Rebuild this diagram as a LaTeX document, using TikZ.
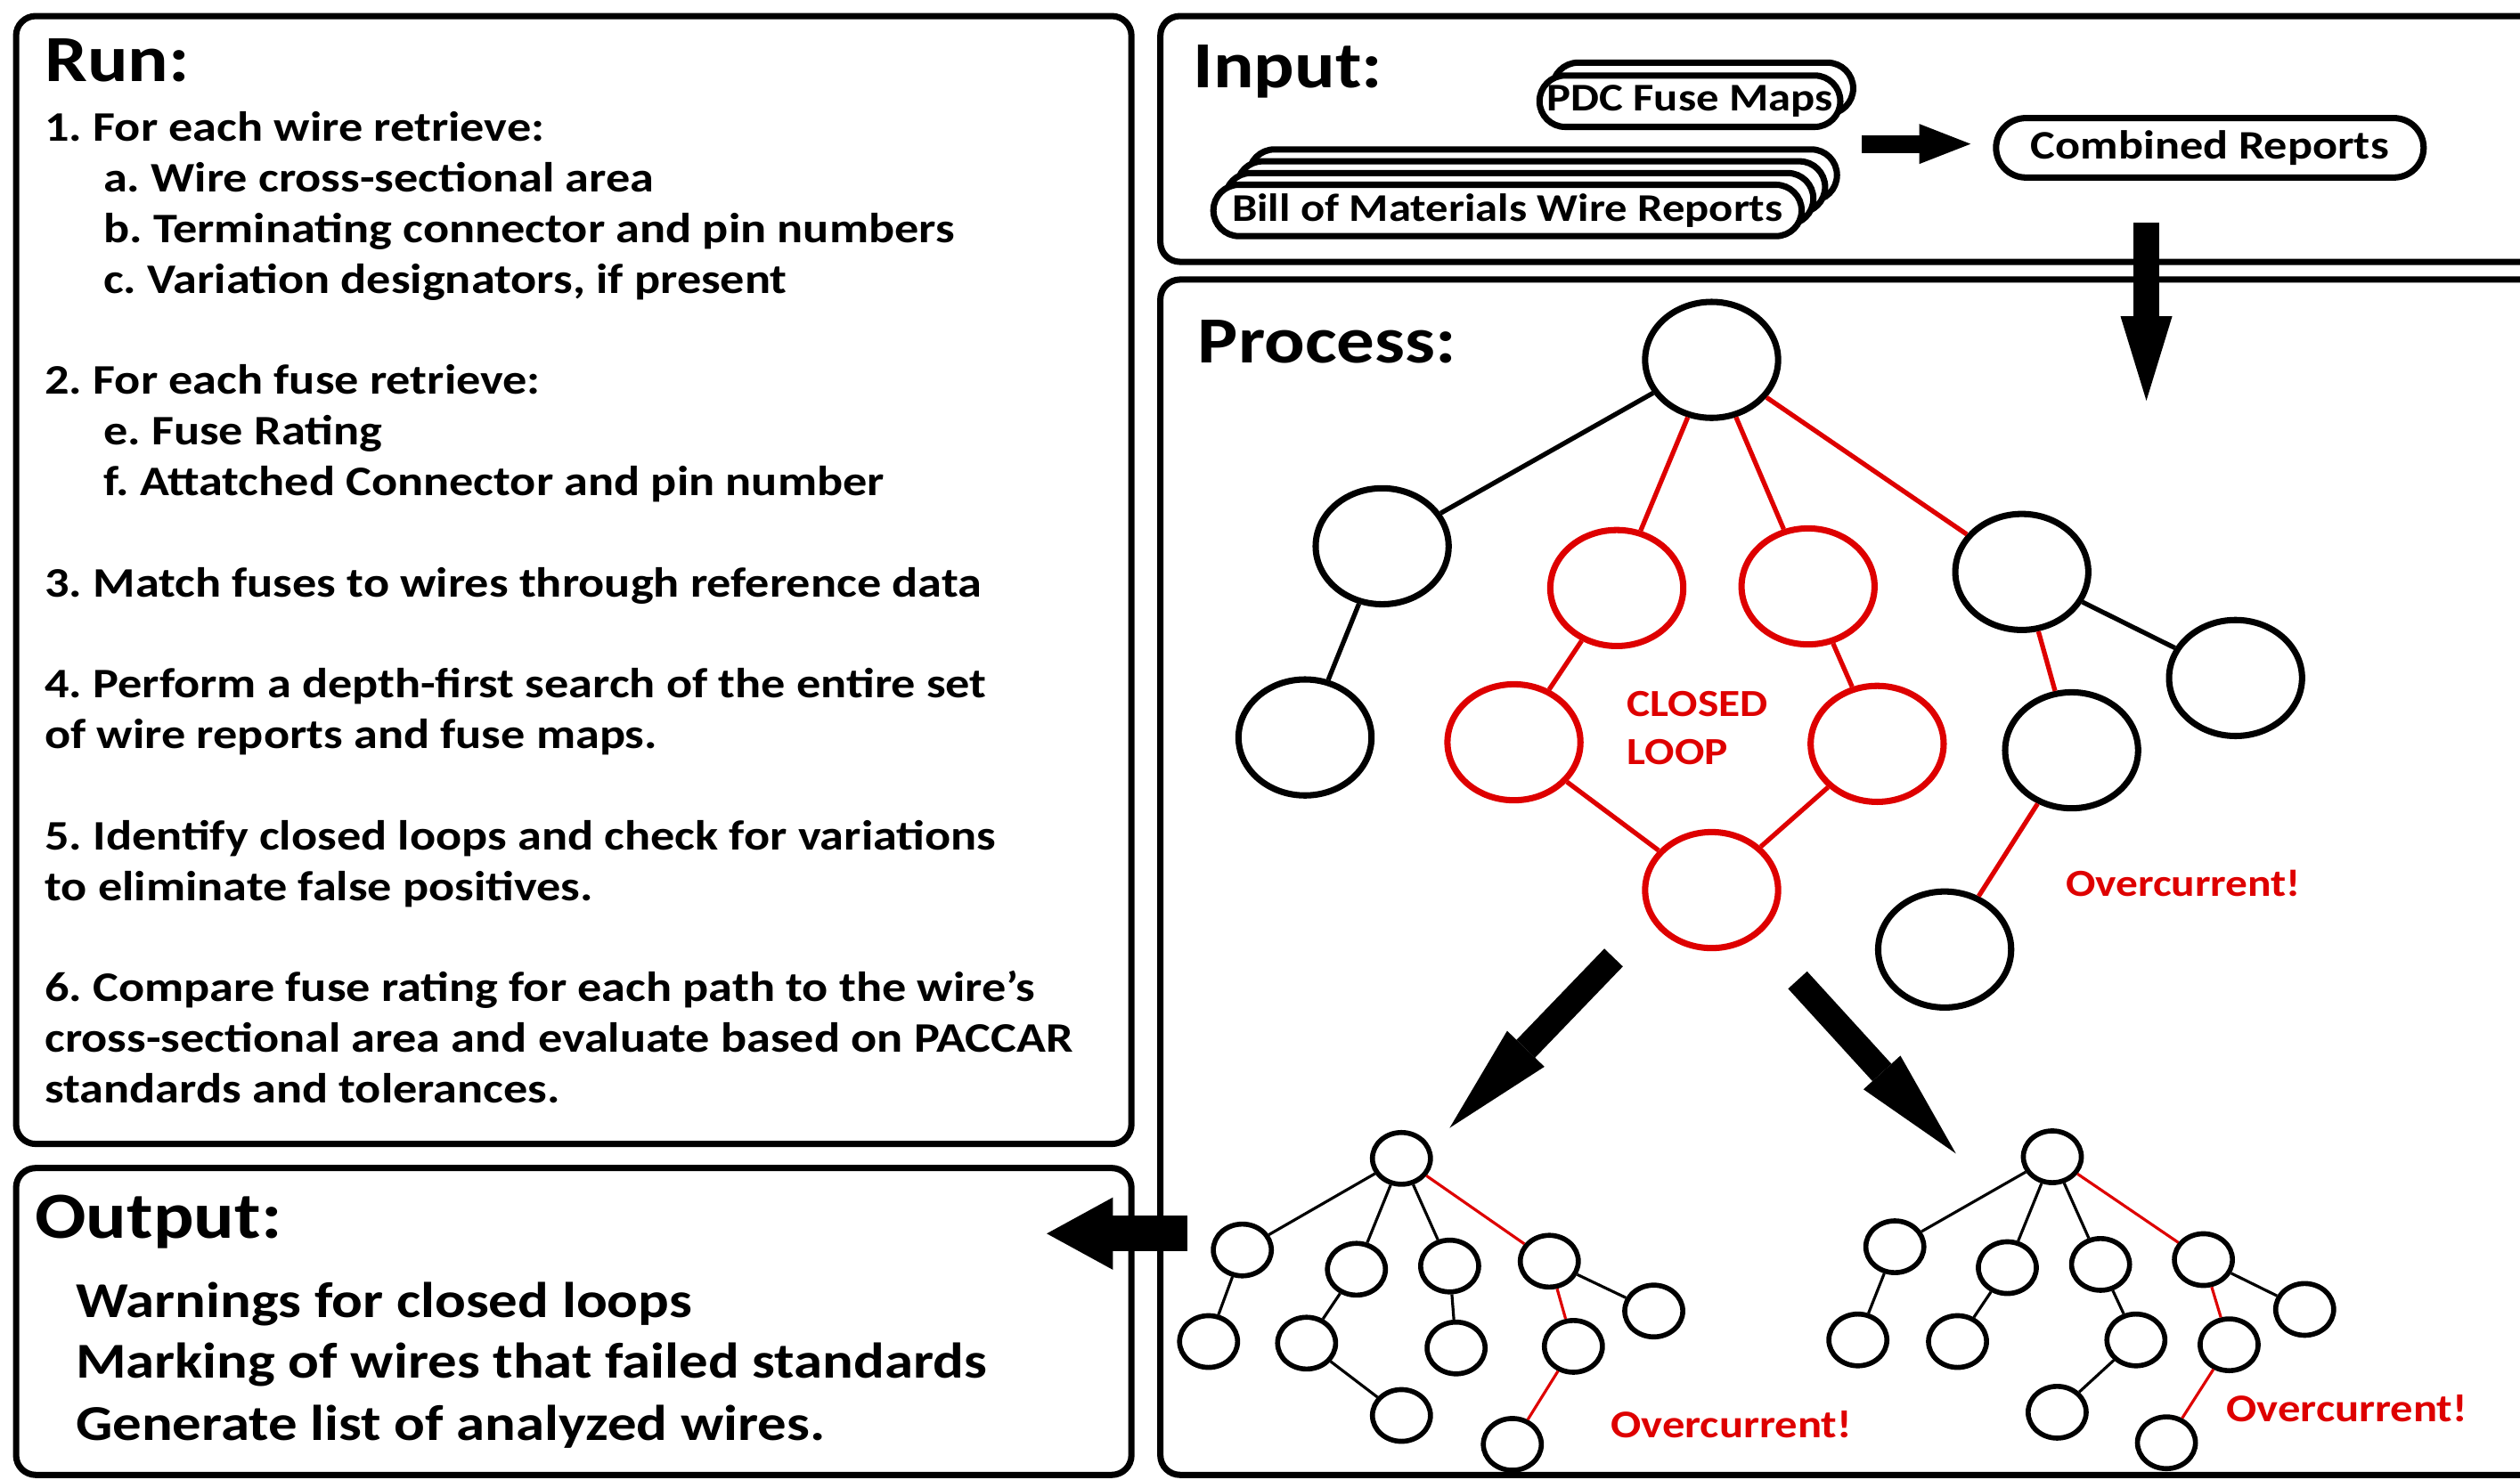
\documentclass[tikz,border=0pt]{standalone}
\usepackage{fontspec}
\setmainfont{Carlito}[FakeStretch=1.15]
\usepackage{tikz}
\usetikzlibrary{arrows.meta,shapes.geometric,shapes.misc,positioning}
\frenchspacing
\definecolor{loopred}{RGB}{222,0,0}
\tikzset{
    %Define style for the panels
    panel/.style={
           draw=black,
           line width=2pt,
           rounded corners=0.22cm},
    %Define styles for headings and list text
    heading/.style={
           anchor=base west,
           inner sep=0pt,
           font=\fontsize{21}{25}\selectfont\bfseries},
    steptext/.style={
           anchor=base west,
           inner sep=0pt,
           font=\fontsize{13.4}{16}\selectfont\bfseries},
    outtext/.style={
           anchor=base west,
           inner sep=0pt,
           font=\fontsize{16}{19}\selectfont\bfseries},
    warntext/.style={
           inner sep=0pt,
           text=loopred,
           font=\fontsize{12.2}{15.4}\selectfont\bfseries},
    %Define style for report pills
    pill/.style={
           rounded rectangle,
           draw=black,
           line width=2pt,
           fill=white,
           inner sep=0pt,
           minimum height=0.576cm,
           font=\fontsize{12.5}{15}\selectfont\bfseries},
    %Define styles for tree nodes
    bignode/.style={
           ellipse,
           draw=black,
           line width=2pt,
           inner sep=0pt,
           minimum width=1.49cm,
           minimum height=1.30cm},
    smallnode/.style={
           ellipse,
           draw=black,
           line width=1.6pt,
           inner sep=0pt,
           minimum width=0.65cm,
           minimum height=0.58cm},
    % Define wire styles
    wire/.style={line width=1.5pt},
    hotwire/.style={line width=1.5pt, draw=loopred},
    thinwire/.style={line width=0.9pt},
    thinhot/.style={line width=0.9pt, draw=loopred},
    % Define block arrow style: shaft width, tip length, tip width
    fat/.style n args={3}{
           line width=#1,
           -{Triangle[length=#2, width=#3, line width=0pt]}}
}
\begin{document}
\begin{tikzpicture}[x=0.018cm, y=-0.018cm]
\useasboundingbox (0,0) rectangle (1568,921);
\clip (0,0) rectangle (1568,921);

 %panels
\draw[panel] (10,10) rectangle (704,712);
\draw[panel] (10,727) rectangle (704,918);
\draw[panel] (722,10) rectangle (1600,163);
\draw[panel] (722,174) rectangle (1600,918);

 %run steps
\node[heading] (run) at (27.5,50.5) {Run:};
\node[steptext] (s1) at (27.5,88) {1. For each wire retrieve:};
\node[steptext] (s1a) at (64,119.5) {a. Wire cross-sectional area};
\node[steptext] (s1b) at (64,151) {b. Terminating connector and pin numbers};
\node[steptext] (s1c) at (64,182.5) {c. Variation designators, if present};
\node[steptext] (s2) at (27.5,245.5) {2. For each fuse retrieve:};
\node[steptext] (s2e) at (64,277) {e. Fuse Rating};
\node[steptext] (s2f) at (64,308.5) {f. Attatched Connector and pin number};
\node[steptext] (s3) at (27.5,371.5) {3. Match fuses to wires through reference data};
\node[steptext] (s4) at (27.5,434.5) {4. Perform a depth-first search of the entire set};
\node[steptext] (s4b) at (27.5,466) {of wire reports and fuse maps.};
\node[steptext] (s5) at (27.5,529) {5. Identify closed loops and check for variations};
\node[steptext] (s5b) at (27.5,560.5) {to eliminate false positives.};
\node[steptext] (s6) at (27.5,623.5) {6. Compare fuse rating for each path to the wire’s};
\node[steptext] (s6b) at (27.5,655) {cross-sectional area and evaluate based on PACCAR};
\node[steptext] (s6c) at (27.5,686.5) {standards and tolerances.};

 %output
\node[heading] (output) at (21.5,770.6) {Output:};
\node[outtext] (o1) at (46.8,819.8) {Warnings for closed loops};
\node[outtext] (o2) at (46.8,857.5) {Marking of wires that failed standards};
\node[outtext] (o3) at (46.8,896.6) {Generate list of analyzed wires.};

 %input
\node[heading] (input) at (742,54.6) {Input:};
\node[pill, minimum width=3.37cm] (pdc1) at (1059.5,55) {};
\node[pill, minimum width=3.37cm] (pdc) at (1051.5,63) {PDC Fuse Maps};
\node[pill, minimum width=6.59cm] (bom3) at (960,109) {};
\node[pill, minimum width=6.59cm] (bom2) at (952.6,116.4) {};
\node[pill, minimum width=6.59cm] (bom1) at (945.3,123.7) {};
\node[pill, minimum width=6.59cm] (bom) at (938,131) {Bill of Materials Wire Reports};
\node[pill, minimum width=4.79cm, minimum height=0.666cm, font=\fontsize{12.9}{15}\selectfont\bfseries] (comb) at (1375,92) {Combined Reports};
\coordinate (merge) at (1158.5,89.6);
\coordinate (feed) at (1335.5,138.6);
\coordinate (scan) at (1335.5,249.4);
\draw[fat={0.2cm}{0.576cm}{0.45cm}, shorten >=0.25cm] (merge) -- (comb.west |- merge);

 %process tree
\node[heading] (process) at (745,226) {Process:};
\node[bignode] (top) at (1065,224) {};
\node[bignode] (l1) at (860,340) {};
\node[bignode] (l2) at (812,459) {};
\node[bignode, draw=loopred] (ka) at (1006,366) {};
\node[bignode, draw=loopred] (kb) at (1125,365) {};
\node[bignode, draw=loopred] (kc) at (942,462) {};
\node[bignode, draw=loopred] (kd) at (1168,463) {};
\node[bignode, draw=loopred] (ke) at (1065,554) {};
\node[bignode] (r1) at (1258,356) {};
\node[bignode] (r2) at (1391,422) {};
\node[bignode] (r3) at (1289,467) {};
\node[bignode] (r4) at (1210,591) {};
\node[warntext, anchor=west, align=left] (loop) at (1012,453) {CLOSED\\LOOP};
\node[warntext, anchor=base west] (over) at (1285,558) {Overcurrent!};

\draw[wire] (top) -- (l1);
\draw[wire] (l1) -- (l2);
\draw[wire] (r1) -- (r2);
\draw[hotwire] (top) -- (ka);
\draw[hotwire] (top) -- (kb);
\draw[hotwire] (top) -- (r1);
\draw[hotwire] (ka) -- (kc);
\draw[hotwire] (kb) -- (kd);
\draw[hotwire] (kc) -- (ke);
\draw[hotwire] (kd) -- (ke);
\draw[hotwire] (r1) -- (r3);
\draw[hotwire] (r3) -- (r4);

 %arrows
\draw[fat={0.283cm}{0.947cm}{0.58cm}] (feed) -- (scan);
\coordinate (splitl) at (1004,596);
\coordinate (splitr) at (1118.5,610);
\coordinate (dfsl) at (902,702);
\coordinate (dfsr) at (1217,718);
\coordinate (report) at (738.7,767.8);
\coordinate (outin) at (651.3,767.8);
\draw[fat={0.288cm}{1.23cm}{0.58cm}] (splitl) -- (dfsl);
\draw[fat={0.288cm}{1.23cm}{0.56cm}] (splitr) -- (dfsr);
\draw[fat={0.396cm}{0.74cm}{0.81cm}] (report) -- (outin);

 %left search tree
\node[smallnode] (lt) at (872,721) {};
\node[smallnode] (lta) at (773,778) {};
\node[smallnode] (ltb) at (844,790) {};
\node[smallnode] (ltc) at (902,788) {};
\node[smallnode] (ltd) at (964,785) {};
\node[smallnode] (lte) at (1029,816) {};
\node[smallnode] (lta1) at (752,835) {};
\node[smallnode] (ltb1) at (813,836) {};
\node[smallnode] (ltc1) at (906,839) {};
\node[smallnode] (ltd1) at (979,838) {};
\node[smallnode] (ltb2) at (872,881) {};
\node[smallnode] (ltd2) at (941,899) {};
\node[warntext, anchor=base west, font=\fontsize{12.5}{15}\selectfont\bfseries] (overl) at (1002,895) {Overcurrent!};

\draw[thinwire] (lt) -- (lta);
\draw[thinwire] (lt) -- (ltb);
\draw[thinwire] (lt) -- (ltc);
\draw[thinhot] (lt) -- (ltd);
\draw[thinwire] (lta) -- (lta1);
\draw[thinwire] (ltb) -- (ltb1);
\draw[thinwire] (ltb1) -- (ltb2);
\draw[thinwire] (ltc) -- (ltc1);
\draw[thinwire] (ltd) -- (lte);
\draw[thinhot] (ltd) -- (ltd1);
\draw[thinhot] (ltd1) -- (ltd2);

 %right search tree
\node[smallnode] (rt) at (1277,720) {};
\node[smallnode] (rta) at (1179,776) {};
\node[smallnode] (rtb) at (1249,789) {};
\node[smallnode] (rtc) at (1307,787) {};
\node[smallnode] (rtd) at (1371,784) {};
\node[smallnode] (rte) at (1434,815) {};
\node[smallnode] (rta1) at (1156,834) {};
\node[smallnode] (rtb1) at (1218,835) {};
\node[smallnode] (rtc1) at (1329,834) {};
\node[smallnode] (rtd1) at (1387,837) {};
\node[smallnode] (rtc2) at (1280,879) {};
\node[smallnode] (rtd2) at (1348,898) {};
\node[warntext, anchor=base west, font=\fontsize{12.5}{15}\selectfont\bfseries] (overr) at (1385,885) {Overcurrent!};

\draw[thinwire] (rt) -- (rta);
\draw[thinwire] (rt) -- (rtb);
\draw[thinwire] (rt) -- (rtc);
\draw[thinhot] (rt) -- (rtd);
\draw[thinwire] (rta) -- (rta1);
\draw[thinwire] (rtb) -- (rtb1);
\draw[thinwire] (rtc) -- (rtc1);
\draw[thinwire] (rtc1) -- (rtc2);
\draw[thinwire] (rtd) -- (rte);
\draw[thinhot] (rtd) -- (rtd1);
\draw[thinhot] (rtd1) -- (rtd2);
\end{tikzpicture}
\end{document}
